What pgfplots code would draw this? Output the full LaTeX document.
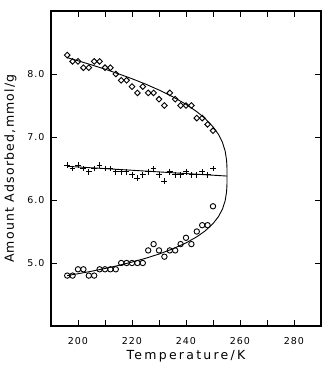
\documentclass[border=0pt]{standalone}
\usepackage{fontspec}
\setmainfont{DejaVu Sans}
\newfontfamily\labfontx[LetterSpace=18]{DejaVu Sans}
\newfontfamily\labfonty[LetterSpace=10]{DejaVu Sans}
\newfontfamily\tickfont[LetterSpace=10]{DejaVu Sans}
\usepackage{pgfplots}
\pgfplotsset{compat=1.18}
\begin{document}
\begin{tikzpicture}
\begin{axis}[
  at={(0pt,0pt)}, anchor=south west,
  scale only axis, width=270pt, height=315pt,
  xmin=190, xmax=290, ymin=4, ymax=9,
  xtick={200,210,...,280},
  xticklabels={200,,220,,240,,260,,280},
  ytick={5,6,7,8},
  yticklabel={\pgfmathprintnumber[fixed,fixed zerofill,precision=1]{\tick}},
  /pgf/number format/assume math mode=true,
  tick align=inside, major tick length=6pt,
  tick style={line width=0.9pt, black},
  axis line style={line width=1.1pt},
  ticklabel style={font=\tickfont\fontsize{9.5}{10}\selectfont},
  xticklabel style={yshift=-8pt},
  yticklabel style={xshift=-3pt},
  xlabel={\labfontx\fontsize{12.5}{14}\selectfont Temperature/K},
  ylabel={\labfonty\fontsize{12.5}{14}\selectfont Amount Adsorbed,mmol/g},
  xlabel style={yshift=1pt},
  ylabel style={yshift=4pt},
  clip=false,
]
% fitted coexistence curve
\addplot[black, line width=0.9pt, mark=none] coordinates {
(196,8.26)(200,8.21)(205,8.145)(210,8.077)(215,8.003)(220,7.925)(225,7.840)
(230,7.746)(235,7.641)(240,7.519)(244,7.402)(247,7.298)(250,7.163)(252,7.043)
(253.5,6.915)(254.5,6.777)(255,6.641)(255.15,6.545)(255.19,6.476)(255.2,6.38)
(255.19,6.284)(255.15,6.217)(255,6.121)(254.5,5.989)(253.5,5.855)(252,5.735)
(250,5.625)(247,5.506)(244,5.416)(240,5.319)(235,5.223)(230,5.142)(225,5.074)
(220,5.015)(215,4.961)(210,4.913)(205,4.869)(200,4.83)(196,4.80)
};
% diameter
\addplot[black, line width=0.9pt, mark=none] coordinates {(196,6.535)(255.2,6.38)};
% diamonds
\addplot[only marks, mark=square, mark size=2.0pt, mark options={rotate=45, line width=0.9pt, fill=white, draw=black}] coordinates {
(196,8.3)(198,8.2)(200,8.2)(202,8.1)(204,8.1)(206,8.2)(208,8.2)(210,8.1)(212,8.1)(214,8.0)
(216,7.9)(218,7.9)(220,7.8)(222,7.7)(224,7.8)(226,7.7)(228,7.7)(230,7.6)(232,7.5)(234,7.7)
(236,7.6)(238,7.5)(240,7.5)(242,7.5)(244,7.3)(246,7.3)(248,7.2)(250,7.1)
};
% crosses
\addplot[only marks, mark=+, mark size=2.9pt, mark options={line width=0.9pt, draw=black}] coordinates {
(196,6.55)(198,6.50)(200,6.55)(202,6.50)(204,6.45)(206,6.50)(208,6.55)(210,6.50)(212,6.50)(214,6.45)
(216,6.45)(218,6.45)(220,6.40)(222,6.35)(224,6.40)(226,6.45)(228,6.50)(230,6.40)(232,6.30)(234,6.45)
(236,6.40)(238,6.40)(240,6.45)(242,6.40)(244,6.40)(246,6.45)(248,6.40)(250,6.50)
};
% circles
\addplot[only marks, mark=o, mark size=2.7pt, mark options={line width=0.9pt, draw=black, fill=white}] coordinates {
(196,4.8)(198,4.8)(200,4.9)(202,4.9)(204,4.8)(206,4.8)(208,4.9)(210,4.9)(212,4.9)(214,4.9)
(216,5.0)(218,5.0)(220,5.0)(222,5.0)(224,5.0)(226,5.2)(228,5.3)(230,5.2)(232,5.1)(234,5.2)
(236,5.2)(238,5.3)(240,5.4)(242,5.3)(244,5.5)(246,5.6)(248,5.6)(250,5.9)
};
\end{axis}
\pgfresetboundingbox
\path[use as bounding box] (-51pt,-46pt) rectangle (282pt,326pt);
\end{tikzpicture}
\end{document}
